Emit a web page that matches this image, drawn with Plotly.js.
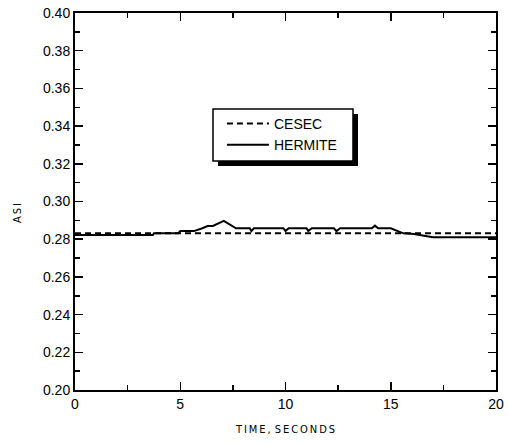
<!DOCTYPE html>
<html>
<head>
<meta charset="utf-8">
<script src="https://cdn.plot.ly/plotly-3.0.1.min.js"></script>
<style>html,body{margin:0;padding:0;background:#fff;}#chart{width:508px;height:444px;}</style>
</head>
<body>
<div id="chart"></div>
<script>
var cesecTime = [0, 20];
var cesecASI = [0.2831, 0.2831];

var hermiteTime = [0, 3.7, 3.75, 4.9, 5.0, 5.65, 6.05, 6.3, 6.55, 7.07, 7.65, 8.3, 8.38, 8.5, 9.9, 10.0, 10.15, 11.0, 11.08, 11.25, 12.3, 12.42, 12.6, 14.1, 14.25, 14.4, 15.0, 15.3, 15.6, 16.1, 16.4, 17.0, 19.7, 20];
var hermiteASI = [0.2822, 0.2822, 0.2831, 0.2831, 0.2843, 0.2843, 0.2858, 0.287, 0.287, 0.2897, 0.2858, 0.2858, 0.2843, 0.2858, 0.2858, 0.2843, 0.2858, 0.2858, 0.2843, 0.2858, 0.2858, 0.2843, 0.2858, 0.2858, 0.2872, 0.2858, 0.2858, 0.2843, 0.2831, 0.2828, 0.2822, 0.281, 0.281, 0.281];

var seriesNames = ['CESEC', 'HERMITE'];
var xTitle = 'T\u2009I\u2009M\u2009E\u2009,\u2009\u2009S\u2009E\u2009C\u2009O\u2009N\u2009D\u2009S';
var yTitle = 'A\u2009S\u2009I';

var traces = [
  {x: cesecTime, y: cesecASI, name: seriesNames[0], mode: 'lines',
   line: {color: '#000', width: 2, dash: '6px,4px'}},
  {x: hermiteTime, y: hermiteASI, name: seriesNames[1], mode: 'lines',
   line: {color: '#000', width: 2}}
];

var layout = {
  width: 508, height: 444,
  margin: {l: 75, r: 12, t: 13, b: 54},
  paper_bgcolor: '#fff', plot_bgcolor: '#fff',
  font: {family: 'Liberation Sans, Arial, sans-serif', color: '#000', size: 13},
  showlegend: true,
  legend: {x: 0.349, y: 0.748, xanchor: 'left', yanchor: 'top',
           bgcolor: 'rgba(0,0,0,0)', borderwidth: 0,
           font: {size: 14, family: 'Liberation Sans, Arial, sans-serif'},
           tracegroupgap: 0, itemwidth: 42},
  xaxis: {range: [0, 20], dtick: 5, tick0: 0,
          showgrid: false, zeroline: false, showline: true, linewidth: 2, linecolor: '#000',
          mirror: 'ticks', ticks: 'inside', ticklen: 8, tickwidth: 1.5, tickcolor: '#000',
          minor: {dtick: 2.5, ticks: 'inside', ticklen: 5, tickwidth: 1.5, tickcolor: '#000', showgrid: false},
          tickfont: {size: 14},
          title: {text: xTitle, standoff: 15,
                  font: {size: 11, family: 'DejaVu Sans Condensed, DejaVu Sans, sans-serif'}}},
  yaxis: {range: [0.2, 0.4], dtick: 0.02, tick0: 0.2, tickformat: '.2f',
          showgrid: false, zeroline: false, showline: true, linewidth: 2, linecolor: '#000',
          mirror: 'ticks', ticks: 'inside', ticklen: 8, tickwidth: 1.5, tickcolor: '#000',
          minor: {dtick: 0.01, ticks: 'inside', ticklen: 5, tickwidth: 1.5, tickcolor: '#000', showgrid: false},
          tickfont: {size: 14}},
  annotations: [
    {text: yTitle, xref: 'paper', yref: 'paper', x: -0.135, y: 0.47, textangle: -90,
     showarrow: false, xanchor: 'center', yanchor: 'middle',
     font: {size: 11, family: 'DejaVu Sans Condensed, DejaVu Sans, sans-serif'}}
  ],
  shapes: [
    {type: 'rect', xref: 'paper', yref: 'paper', layer: 'above',
     x0: 0.3397, x1: 0.6722, y0: 0.5942, y1: 0.7321,
     fillcolor: '#000', line: {width: 0}},
    {type: 'rect', xref: 'paper', yref: 'paper', layer: 'above',
     x0: 0.3278, x1: 0.6603, y0: 0.6074, y1: 0.7454,
     fillcolor: '#fff', line: {width: 1.5, color: '#000'}}
  ]
};

Plotly.newPlot('chart', traces, layout, {displayModeBar: false, staticPlot: true});
</script>
</body>
</html>
